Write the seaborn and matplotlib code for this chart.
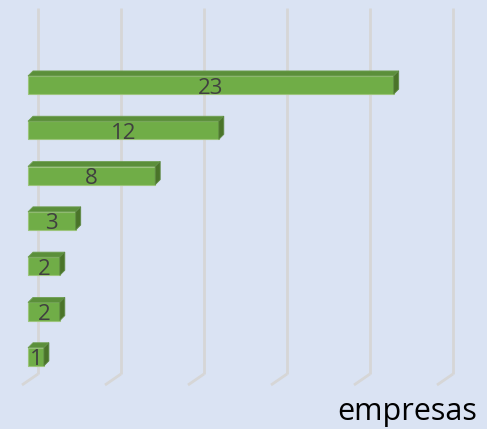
import matplotlib
matplotlib.use('Agg')
import matplotlib.pyplot as plt
from matplotlib.patches import Polygon
import seaborn as sns
import numpy as np

# datos
categorias = ['c1', 'c2', 'c3', 'c4', 'c5', 'c6', 'c7']
empresas = [23, 12, 8, 3, 2, 2, 1]
grid_ticks = [0, 5, 10, 15, 20, 25]

fondo = '#dae3f3'
verde = '#70ad47'
verde_top = '#5b8f3a'
verde_side = '#4a7429'
gris_grid = '#d6d6d6'

sns.set_style('white')
plt.rcParams['font.family'] = ['Open Sans', 'DejaVu Sans']

fig = plt.figure(figsize=(4.87, 4.29), dpi=100, facecolor=fondo)
ax = fig.add_axes([0, 0, 1, 1])

W, H = 487, 429
# front plane scale (px per unit) and row spacing
px_x = 15.9
x0_px = 28
px_row = 45.3
y0_px = 85

sns.barplot(x=empresas, y=categorias, orient='h', color=verde, width=0.40,
            edgecolor='#9cc47c', linewidth=0.8, saturation=1, ax=ax, zorder=3)
ax.set_xlim(-x0_px / px_x, (W - x0_px) / px_x)
ax.set_ylim((H - y0_px) / px_row, -y0_px / px_row)

# back plane (gridlines) on a twin axis
ax2 = ax.twiny()
gx0, gpx = 38, 16.6
ax2.set_xlim(-gx0 / gpx, (W - gx0) / gpx)
ytop = (8 - y0_px) / px_row
ybot = (374 - y0_px) / px_row
ax2.vlines(grid_ticks, ytop, ybot, color=gris_grid, lw=2, zorder=1)
for t in grid_ticks:
    ax2.plot([t, t - 16 / gpx], [ybot, ybot + 11 / px_row], color=gris_grid,
             lw=2, zorder=1, solid_capstyle='butt')

ax.set_zorder(2)
ax2.set_zorder(1)
ax.patch.set_visible(False)
ax2.patch.set_visible(False)

# 3D faces from the bar patches
dx = 5 / px_x
dy = 5 / px_row
for p, v in zip(list(ax.patches), empresas):
    x, y = p.get_x(), p.get_y()
    w, h = p.get_width(), p.get_height()
    ytop_f = min(y, y + h)
    ybot_f = max(y, y + h)
    top = Polygon([[x, ytop_f], [x + w, ytop_f], [x + w + dx, ytop_f - dy],
                   [x + dx, ytop_f - dy]], closed=True, facecolor=verde_top,
                  edgecolor='#6f9f52', lw=0.6, zorder=3)
    side = Polygon([[x + w, ytop_f], [x + w + dx, ytop_f - dy],
                    [x + w + dx, ybot_f - dy], [x + w, ybot_f]], closed=True,
                   facecolor=verde_side, edgecolor='#5f8a45', lw=0.6, zorder=3)
    ax.add_patch(top)
    ax.add_patch(side)
    ax.text(x + w / 2, (ytop_f + ybot_f) / 2 + 3 / px_row, str(v),
            ha='center', va='center', color='#404040', fontsize=16, zorder=4)

for a in (ax, ax2):
    a.set_xticks([])
    a.set_yticks([])
    a.set_xlabel('')
    a.set_ylabel('')
    for s in a.spines.values():
        s.set_visible(False)

fig.text(477 / W, 1 - 420 / H, 'empresas', ha='right', va='baseline',
         fontsize=22, color='#000000')

fig.savefig('out.png', dpi=100, facecolor=fondo)
